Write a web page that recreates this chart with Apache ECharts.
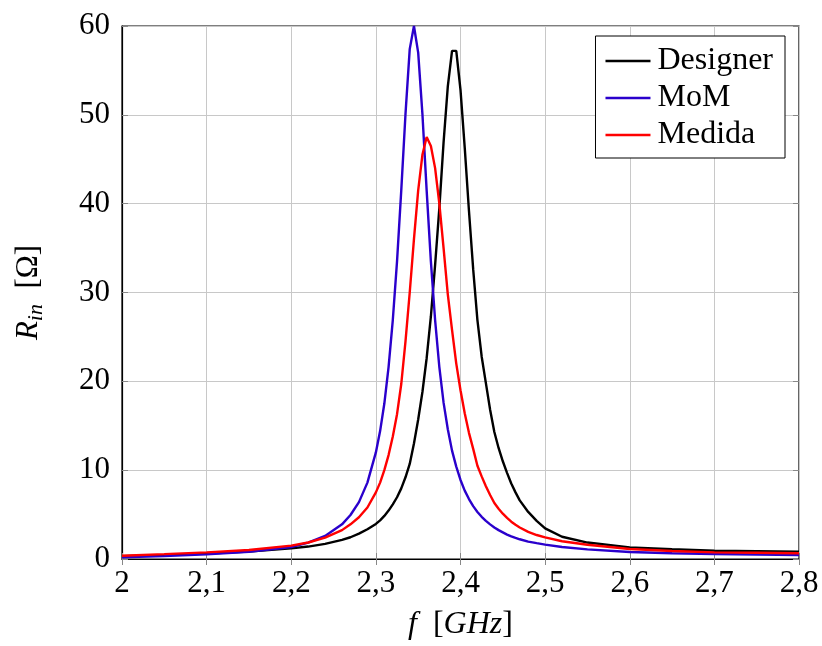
<!DOCTYPE html>
<html>
<head>
<meta charset="utf-8">
<script src="https://cdn.jsdelivr.net/npm/echarts@6/dist/echarts.min.js"></script>
<style>
  html, body { margin: 0; padding: 0; background: #fff; }
  #box { width: 822px; height: 646px; }
</style>
</head>
<body>
<div id="box"></div>
<script>
var dom = document.getElementById("box");
var myChart = echarts.init(dom);

// frequency samples (GHz)
var freqs = [2.00, 2.05, 2.10, 2.15, 2.20, 2.22, 2.24, 2.26, 2.27, 2.28, 2.29,
    2.30, 2.305, 2.31, 2.315, 2.32, 2.325, 2.33, 2.335, 2.34, 2.345,
    2.35, 2.355, 2.36, 2.365, 2.37, 2.375, 2.38, 2.385, 2.39, 2.395,
    2.40, 2.405, 2.41, 2.415, 2.42, 2.425, 2.43, 2.435, 2.44, 2.445,
    2.45, 2.455, 2.46, 2.465, 2.47, 2.48, 2.49, 2.50, 2.52, 2.55,
    2.60, 2.65, 2.70, 2.75, 2.80];

var designer = [0.32, 0.45, 0.62, 0.85, 1.2, 1.4, 1.7, 2.15, 2.45, 2.85, 3.35,
    3.95, 4.35, 4.85, 5.45, 6.15, 6.95, 7.95, 9.2, 10.7, 13.0,
    15.7, 18.8, 22.6, 27.3, 33.1, 39.5, 46.9, 53.2, 57.2, 57.2,
    52.8, 46.3, 39.2, 32.6, 26.9, 22.8, 19.8, 16.8, 14.3, 12.5,
    11.0, 9.7, 8.5, 7.5, 6.6, 5.3, 4.3, 3.45, 2.5, 1.85,
    1.31, 1.1, 0.93, 0.87, 0.82];

var mom = [0.2, 0.32, 0.52, 0.8, 1.35, 1.85, 2.6, 3.9, 4.95, 6.4, 8.6,
    12.0, 14.4, 17.5, 21.6, 26.9, 33.5, 41.5, 50.1, 57.4, 60.0,
    57.0, 50.1, 41.5, 33.5, 26.9, 21.6, 17.6, 14.6, 12.2, 10.4,
    8.9, 7.7, 6.75, 5.95, 5.3, 4.75, 4.3, 3.9, 3.55, 3.25,
    3.0, 2.75, 2.55, 2.38, 2.22, 1.95, 1.78, 1.62, 1.35, 1.08,
    0.78, 0.65, 0.56, 0.5, 0.45];

var medida = [0.37, 0.55, 0.75, 1.02, 1.5, 1.86, 2.4, 3.25, 3.9, 4.7, 5.8,
    7.5, 8.6, 10.0, 11.7, 13.8, 16.3, 19.7, 24.5, 30.0, 36.0,
    41.5, 45.5, 47.5, 46.5, 44.0, 40.0, 35.0, 29.8, 25.8, 22.0,
    19.0, 16.4, 14.2, 12.4, 10.5, 9.3, 8.2, 7.2, 6.3, 5.65,
    5.1, 4.62, 4.2, 3.85, 3.55, 3.05, 2.7, 2.43, 2.0, 1.6,
    1.12, 0.9, 0.75, 0.7, 0.65];

var seriesNames = ['Designer', 'MoM', 'Medida'];
var seriesColors = ['#000000', '#2a00cc', '#ff0000'];

function pairs(ys) {
    return freqs.map(function (f, i) { return [f, ys[i]]; });
}

var font = '"Liberation Serif", "Times New Roman", serif';

function makeSeries(name, color, ys) {
    return {
        name: name,
        type: 'line',
        data: pairs(ys),
        symbol: 'none',
        lineStyle: { color: color, width: 2.4 },
        itemStyle: { color: color },
        animation: false
    };
}

var option = {
    animation: false,
    textStyle: { fontFamily: font },
    grid: {
        left: 122, right: 23, top: 26, bottom: 86,
        show: true, borderColor: '#000', borderWidth: 1.2
    },
    legend: {
        orient: 'vertical',
        right: 37,
        top: 36,
        padding: [8, 12, 6, 10],
        itemGap: 3,
        itemWidth: 45,
        itemHeight: 2.5,
        icon: 'rect',
        backgroundColor: '#fff',
        borderColor: '#000',
        borderWidth: 1,
        borderRadius: 0,
        textStyle: { fontFamily: font, fontSize: 32, lineHeight: 34, color: '#000', padding: [0, 0, 0, 2] },
        data: seriesNames
    },
    xAxis: [{
        type: 'value',
        min: 2.0, max: 2.8, interval: 0.1,
        axisLine: { show: true, lineStyle: { color: '#000', width: 1.2 } },
        axisTick: { show: true, inside: true, length: 6, lineStyle: { color: '#888' } },
        splitLine: { show: true, lineStyle: { color: '#c8c8c8', width: 1 } },
        axisLabel: {
            margin: 9, fontSize: 31, color: '#000', fontFamily: font,
            formatter: function (v) {
                var r = Math.round(v * 10) / 10;
                return (r % 1 === 0) ? String(r) : r.toFixed(1).replace('.', ',');
            }
        },
        name: '{i|f}  [{i|GHz}]',
        nameLocation: 'middle',
        nameGap: 50,
        nameTextStyle: {
            fontSize: 32, color: '#000', fontFamily: font,
            rich: { i: { fontStyle: 'italic', fontSize: 32, fontFamily: font } }
        }
    }, {
        type: 'value', position: 'top',
        min: 2.0, max: 2.8, interval: 0.1,
        axisLine: { show: false },
        axisTick: { show: true, inside: true, length: 6, lineStyle: { color: '#888' } },
        axisLabel: { show: false },
        splitLine: { show: false }
    }],
    yAxis: [{
        type: 'value',
        min: 0, max: 60, interval: 10,
        axisLine: { show: true, lineStyle: { color: '#000', width: 1.2 } },
        axisTick: { show: true, inside: true, length: 6, lineStyle: { color: '#888' } },
        splitLine: { show: true, lineStyle: { color: '#c8c8c8', width: 1 } },
        axisLabel: { margin: 12, fontSize: 31, color: '#000', fontFamily: font },
        name: '{i|R}{s|in}  [Ω]',
        nameLocation: 'middle',
        nameGap: 75,
        nameRotate: 90,
        nameTextStyle: {
            fontSize: 31, color: '#000', fontFamily: font,
            rich: {
                i: { fontStyle: 'italic', fontSize: 31, fontFamily: font, lineHeight: 36 },
                s: { fontStyle: 'italic', fontSize: 22, fontFamily: font, verticalAlign: 'bottom', lineHeight: 36, padding: [10, 0, 0, 0] }
            }
        }
    }, {
        type: 'value', position: 'right',
        min: 0, max: 60, interval: 10,
        axisLine: { show: false },
        axisTick: { show: true, inside: true, length: 6, lineStyle: { color: '#888' } },
        axisLabel: { show: false },
        splitLine: { show: false }
    }],
    series: [
        makeSeries(seriesNames[0], seriesColors[0], designer),
        makeSeries(seriesNames[1], seriesColors[1], mom),
        makeSeries(seriesNames[2], seriesColors[2], medida)
    ]
};

myChart.setOption(option);
</script>
</body>
</html>
